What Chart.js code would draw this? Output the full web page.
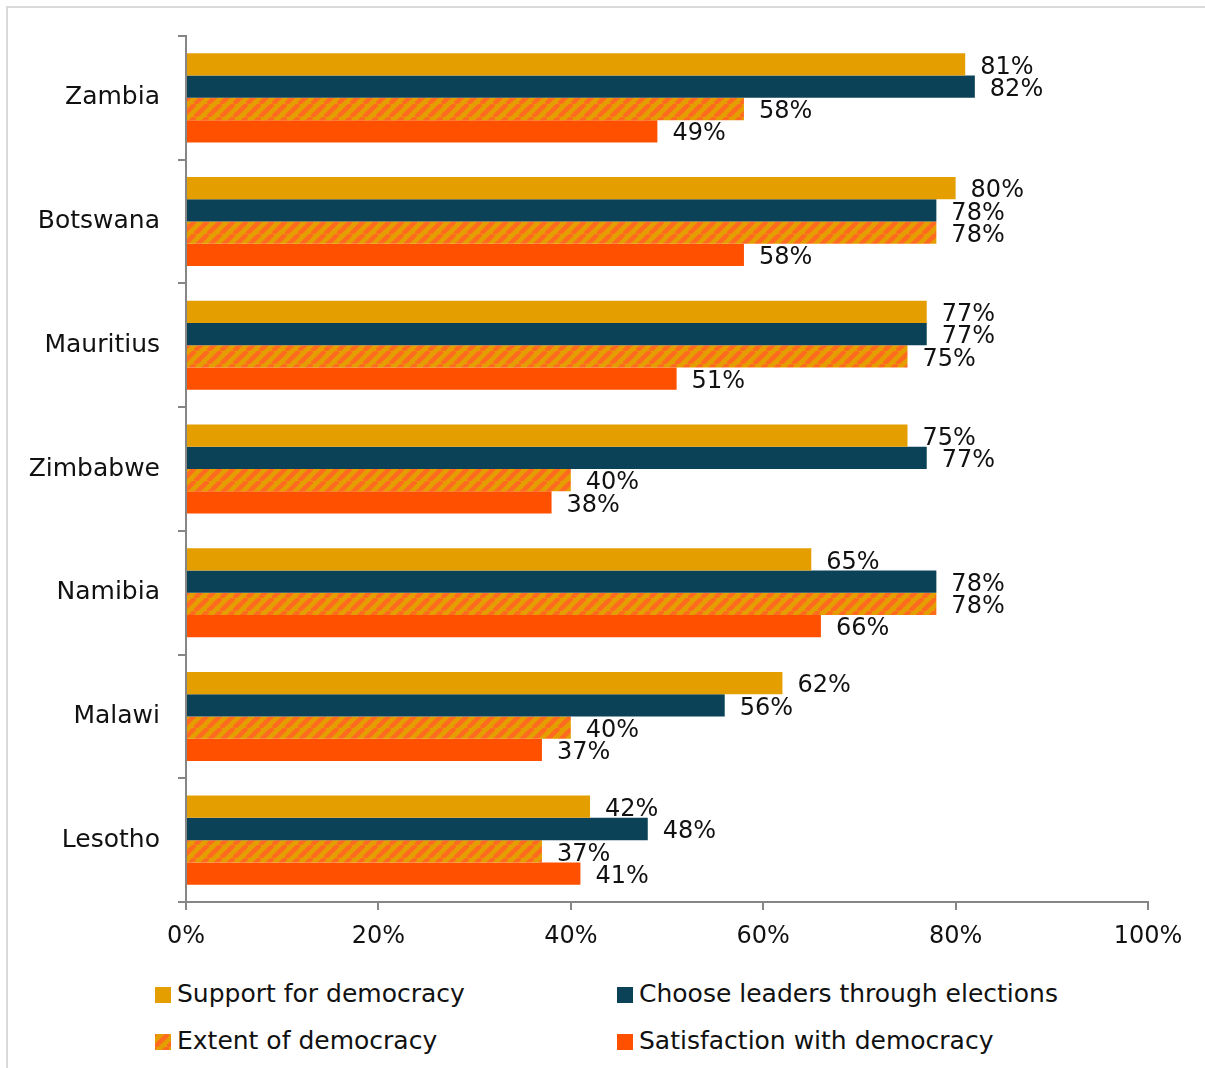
<!DOCTYPE html>
<html lang="en">
<head>
    <meta charset="UTF-8">
    <title>Views on democracy</title>
    <script src="https://cdn.jsdelivr.net/npm/chart.js"></script>
    <style>
        body {
            margin: 0;
            font-family: "DejaVu Sans", sans-serif;
            background: #fff;
        }
        #frame {
            position: absolute;
            left: 6px;
            top: 6px;
            width: 1205px;
            height: 1068px;
            border: 2px solid #d9d9d9;
            box-sizing: border-box;
        }
        #wrap {
            position: absolute;
            left: 0;
            top: 0;
            width: 1205px;
            height: 960px;
        }
        .legend-item {
            position: absolute;
            font-size: 25px;
            color: #111;
            white-space: nowrap;
            line-height: 25px;
        }
        .legend-item span.box {
            display: inline-block;
            width: 16px;
            height: 16px;
            margin-right: 6px;
            vertical-align: -1px;
        }
    </style>
</head>
<body>
<div id="frame"></div>
<div id="wrap"><canvas id="chart" width="1205" height="960"></canvas></div>

<div class="legend-item" style="left:155px; top:981px;"><span class="box" style="background:#e59e00"></span>Support for democracy</div>
<div class="legend-item" style="left:617px; top:981px;"><span class="box" style="background:#0b4257"></span>Choose leaders through elections</div>
<div class="legend-item" style="left:155px; top:1028px;"><span class="box" id="hatchBox"></span>Extent of democracy</div>
<div class="legend-item" style="left:617px; top:1028px;"><span class="box" style="background:#ff5000"></span>Satisfaction with democracy</div>

<script>
    const countries = ['Zambia', 'Botswana', 'Mauritius', 'Zimbabwe', 'Namibia', 'Malawi', 'Lesotho'];
    const supportForDemocracy = [81, 80, 77, 75, 65, 62, 42];
    const chooseLeaders = [82, 78, 77, 77, 78, 56, 48];
    const extentOfDemocracy = [58, 78, 75, 40, 78, 40, 37];
    const satisfaction = [49, 58, 51, 38, 66, 37, 41];
    const xTicks = [0, 20, 40, 60, 80, 100];

    const FONT = '"DejaVu Sans", sans-serif';

    // diagonal orange stripes on gold
    function makeHatch() {
        const c = document.createElement('canvas');
        c.width = 13;
        c.height = 13;
        const g = c.getContext('2d');
        g.fillStyle = '#e59e00';
        g.fillRect(0, 0, 13, 13);
        g.strokeStyle = '#ff6a21';
        g.lineWidth = 4.5;
        g.beginPath();
        for (let k = -13; k <= 26; k += 13) {
            g.moveTo(k, 13);
            g.lineTo(k + 13, 0);
        }
        g.stroke();
        return c;
    }
    const hatchCanvas = makeHatch();
    document.getElementById('hatchBox').style.background = 'url(' + hatchCanvas.toDataURL() + ')';

    const ctx = document.getElementById('chart').getContext('2d');
    const hatch = ctx.createPattern(hatchCanvas, 'repeat');

    // value labels drawn just past the end of each bar
    const valueLabels = {
        id: 'valueLabels',
        afterDatasetsDraw(chart) {
            const c = chart.ctx;
            c.save();
            c.font = '24px ' + FONT;
            c.fillStyle = '#111';
            c.textAlign = 'left';
            c.textBaseline = 'middle';
            chart.data.datasets.forEach((ds, i) => {
                const meta = chart.getDatasetMeta(i);
                meta.data.forEach((bar, j) => {
                    c.fillText(ds.data[j] + '%', bar.x + 15, bar.y + 3);
                });
            });
            c.restore();
        }
    };

    new Chart(ctx, {
        type: 'bar',
        data: {
            labels: countries,
            datasets: [
                { label: 'Support for democracy', data: supportForDemocracy, backgroundColor: '#e59e00' },
                { label: 'Choose leaders through elections', data: chooseLeaders, backgroundColor: '#0b4257' },
                { label: 'Extent of democracy', data: extentOfDemocracy, backgroundColor: hatch },
                { label: 'Satisfaction with democracy', data: satisfaction, backgroundColor: '#ff5000' }
            ]
        },
        options: {
            indexAxis: 'y',
            responsive: false,
            animation: false,
            layout: { padding: { top: 36, right: 57, left: 0, bottom: 0 } },
            datasets: {
                bar: { categoryPercentage: 0.72, barPercentage: 1.0, borderWidth: 0 }
            },
            plugins: {
                legend: { display: false },
                tooltip: { enabled: false }
            },
            scales: {
                x: {
                    min: 0,
                    max: 100,
                    afterBuildTicks(scale) {
                        scale.ticks = xTicks.map(v => ({ value: v }));
                    },
                    afterFit(scale) { scale.height = 58; },
                    border: { color: '#868686', width: 2 },
                    grid: { drawOnChartArea: false, color: '#868686', tickLength: 8, lineWidth: 2 },
                    ticks: {
                        callback: v => v + '%',
                        color: '#111',
                        padding: 12,
                        font: { family: FONT, size: 24 }
                    }
                },
                y: {
                    afterFit(scale) { scale.width = 186; },
                    border: { color: '#868686', width: 2 },
                    grid: { drawOnChartArea: false, color: '#868686', tickLength: 8, lineWidth: 2 },
                    ticks: {
                        color: '#111',
                        padding: 18,
                        font: { family: FONT, size: 25 }
                    }
                }
            }
        },
        plugins: [valueLabels]
    });
</script>
</body>
</html>
